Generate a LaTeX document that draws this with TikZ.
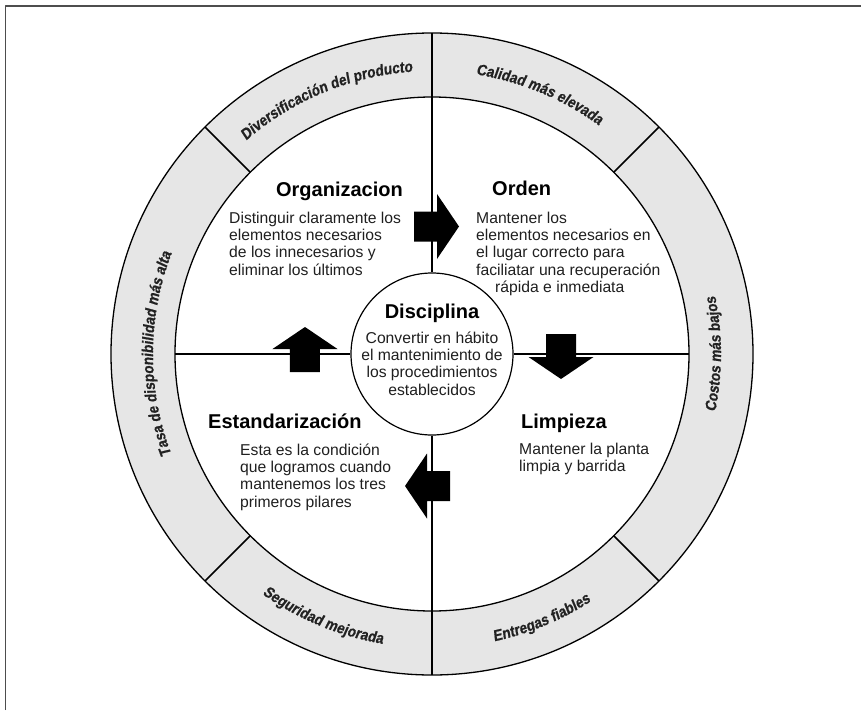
\documentclass[tikz,border=0pt]{standalone}
\usepackage{fontspec}
\setmainfont{Liberation Sans}
\newfontfamily\ringfamily[FakeStretch=0.88,FakeSlant=0.12,FakeBold=0.8]{Liberation Sans}
\usetikzlibrary{decorations.text}
\definecolor{ringgray}{HTML}{E6E6E6}
\definecolor{framegray}{HTML}{4D4D4D}
\definecolor{ringtext}{HTML}{222222}
\newcommand\ringstyle{\ringfamily\bfseries\fontsize{15.5}{17}\selectfont\color{ringtext}}
\newcommand\headstyle{\bfseries\fontsize{20}{22}\selectfont}
\newcommand\bodystyle{\fontsize{15.7}{17.4}\selectfont}
\tikzset{
  headtxt/.style={font=\headstyle, inner sep=0pt},
  bodytxt/.style={font=\bodystyle, inner sep=0pt, text=black!88},
  ringline/.style={line width=1.3pt},
  divline/.style={line width=1.5pt},
  quadline/.style={line width=1.3pt},
  ringlabel/.style={decorate, decoration={text along path, text align=center, text={|\ringstyle|#1}}},
  cyclearrow/.pic={\fill (-23,15) -- (0,15) -- (0,32.5) -- (22,0) -- (0,-32.5) -- (0,-15) -- (-23,-15) -- cycle;}
}
\begin{document}
\begin{tikzpicture}[x=1pt,y=1pt,line join=round]
\useasboundingbox (-432,-356) rectangle (429,354);
% frame (top and left edges visible)
\coordinate (fbl) at (-426.5,-356);
\coordinate (ftl) at (-426.5,348);
\coordinate (ftr) at (429,348);
\draw[framegray, line width=1.6pt] (fbl) -- (ftl) -- (ftr);

% ring
\fill[ringgray, even odd rule] (0,0) circle[radius=321] (0,0) circle[radius=257];
\draw[ringline] (0,0) circle[radius=321];
\draw[ringline] (0,0) circle[radius=257];
\foreach \a in {45,135,225,315}{
  \draw[divline] (\a:257) -- (\a:321);
}

% center circle
\node[circle, draw, fill=white, minimum size=162pt, inner sep=0pt, line width=1.2pt] (disc) at (0,0) {};

% quadrant lines
\coordinate (vtop) at (0,321);
\coordinate (vbot) at (0,-321);
\coordinate (hleft) at (-257,0);
\coordinate (hright) at (257,0);
\draw[quadline] (vtop) -- (disc.north);
\draw[quadline] (disc.south) -- (vbot);
\draw[quadline] (hleft) -- (disc.west);
\draw[quadline] (disc.east) -- (hright);

% cycle arrows
\pic at (5,127.5) {cyclearrow};
\pic[rotate=-90] at (129,-3) {cyclearrow};
\pic[rotate=180] at (-5,-132) {cyclearrow};
\pic[rotate=90] at (-127,5) {cyclearrow};

% ring labels
\path[ringlabel={Diversificación del producto}] (135:283) arc[start angle=135, end angle=90, radius=283];
\path[ringlabel={Calidad más elevada}] (90:283) arc[start angle=90, end angle=45, radius=283];
\path[ringlabel={Costos más bajos}] (-45:289) arc[start angle=-45, end angle=45, radius=289];
\path[ringlabel={Entregas fiables}] (270:294) arc[start angle=270, end angle=315, radius=294];
\path[ringlabel={Seguridad mejorada}] (225:294) arc[start angle=225, end angle=270, radius=294];
\path[ringlabel={Tasa de disponibilidad más alta}] (225:279) arc[start angle=225, end angle=135, radius=279];

% quadrant texts
\node[headtxt, anchor=base east] (orghead) at (-29,158) {Organizacion};
\node[bodytxt, anchor=base west] (orgbody) at (-203,131) {\begin{tabular}[t]{@{}l@{}}Distinguir claramente los\\elementos necesarios\\de los innecesarios y\\eliminar los últimos\end{tabular}};

\node[headtxt, anchor=base west] (ordhead) at (60,159) {Orden};
\node[bodytxt, anchor=base west] (ordbody) at (44,131) {\begin{tabular}[t]{@{}l@{}}Mantener los\\elementos necesarios en\\el lugar correcto para\\faciliatar una recuperación\\\hspace*{19pt}rápida e inmediata\end{tabular}};

\node[headtxt, anchor=base] (dischead) at (0,36) {Disciplina};
\node[bodytxt, anchor=base] (discbody) at (0,11) {\begin{tabular}[t]{@{}c@{}}Convertir en hábito\\el mantenimiento de\\los procedimientos\\establecidos\end{tabular}};

\node[headtxt, anchor=base west] (esthead) at (-224,-74) {Estandarización};
\node[bodytxt, anchor=base west] (estbody) at (-192,-101) {\begin{tabular}[t]{@{}l@{}}Esta es la condición\\que logramos cuando\\mantenemos los tres\\primeros pilares\end{tabular}};

\node[headtxt, anchor=base west] (limhead) at (89,-74) {Limpieza};
\node[bodytxt, anchor=base west] (limbody) at (87,-100) {\begin{tabular}[t]{@{}l@{}}Mantener la planta\\limpia y barrida\end{tabular}};
\end{tikzpicture}
\end{document}
